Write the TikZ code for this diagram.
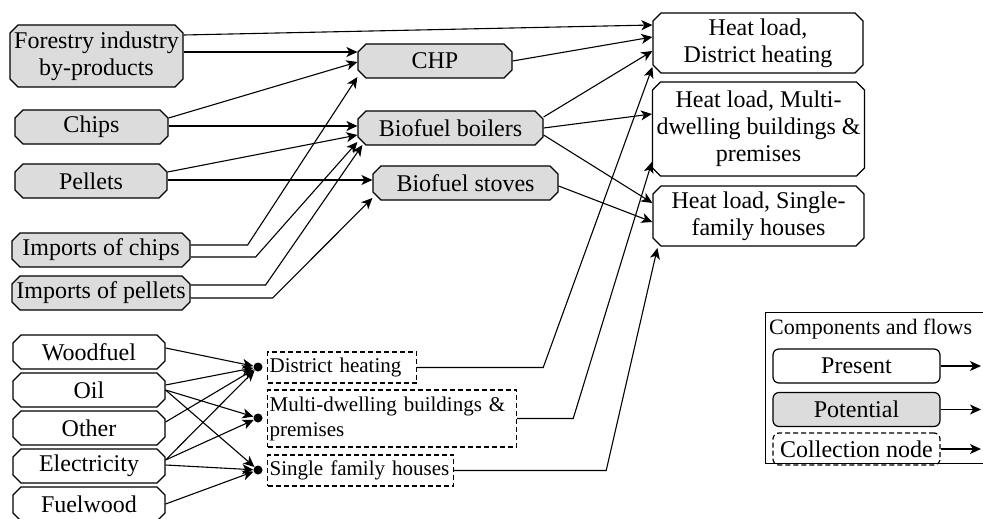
\documentclass[tikz,border=0pt]{standalone}
\usepackage{fontspec}
\setmainfont{Liberation Serif}
\newfontfamily\gfont{Liberation Serif}
\usetikzlibrary{shapes.misc,arrows.meta,calc}
\definecolor{boxgray}{RGB}{220,220,220}
\begin{document}
\begin{tikzpicture}[x=1pt,y=-1pt,
  every node/.style={font=\gfont\fontsize{24}{27}\selectfont},
  flow/.style={-{Stealth[length=11pt,width=10pt,inset=3pt]}, line width=1.1pt},
  box/.style={chamfered rectangle, chamfered rectangle xsep=4pt, chamfered rectangle ysep=4pt, draw, line width=1.2pt, inner sep=0pt, align=center},
  pot/.style={box, fill=boxgray},
  pres/.style={box, fill=white},
  coll/.style={draw, dash pattern=on 5pt off 3pt, line width=1.2pt, inner xsep=2pt, inner ysep=0pt, align=left, font=\gfont\fontsize{21}{25}\selectfont},
  dot/.style={circle, fill, inner sep=0pt, minimum size=9pt},
  legbox/.style={draw, rounded corners=6pt, line width=1.2pt, minimum width=167pt, minimum height=34pt, inner sep=0pt},
]
\useasboundingbox (0,0) rectangle (983,519);

% potential sources
\node[pot, minimum width=173pt, minimum height=62pt] (forest) at (96.5,56) {Forestry industry\\by-products};
\node[pot, minimum width=153pt, minimum height=34pt] (chips) at (91.5,127) {Chips};
\node[pot, minimum width=152pt, minimum height=34pt] (pellets) at (91,181) {Pellets};
\node[pot, minimum width=178pt, minimum height=34pt] (ichips) at (101,250) {Imports of chips};
\node[pot, minimum width=178pt, minimum height=34pt] (ipell) at (101,293) {Imports of pellets};
% conversion
\node[pot, minimum width=154pt, minimum height=34pt] (chp) at (435,61) {CHP};
\node[pot, minimum width=185pt, minimum height=34pt] (boil) at (450.5,128) {Biofuel boilers};
\node[pot, minimum width=185pt, minimum height=34pt] (stove) at (465.5,183) {Biofuel stoves};
% heat loads
\node[pres, minimum width=210pt, minimum height=60pt] (hdh) at (758,43) {Heat load,\\District heating};
\node[pres, minimum width=211pt, minimum height=94pt] (hm) at (758.5,129) {Heat load, Multi-\\dwelling buildings \&\\premises};
\node[pres, minimum width=211pt, minimum height=60pt] (hs) at (758.5,216) {Heat load, Single-\\family houses};
% present sources
\node[pres, minimum width=152pt, minimum height=34pt] (wood) at (89,352) {Woodfuel};
\node[pres, minimum width=152pt, minimum height=34pt] (oil) at (89,390) {Oil};
\node[pres, minimum width=152pt, minimum height=34pt] (other) at (89,428) {Other};
\node[pres, minimum width=152pt, minimum height=34pt] (elec) at (89,466) {Electricity};
\node[pres, minimum width=152pt, minimum height=34pt] (fuelw) at (89,504) {Fuelwood};
% collection nodes
\node[dot] (ddh) at (258,367) {};
\node[dot] (dm) at (258,418) {};
\node[dot] (ds) at (258,470) {};
\node[coll, text width=145pt, minimum height=31pt, anchor=west] (cdh) at (267,367.5) {District heating};
\node[coll, text width=245pt, minimum height=57pt, anchor=west] (cm) at (267,418.5) {Multi-dwelling buildings \&\\premises};
\node[coll, text width=182pt, minimum height=31pt, anchor=west] (cs) at (267,470.5) {Single family houses};

% flows top
\draw[flow] ([yshift=21pt]forest.east) -- ([yshift=18pt]hdh.west);
\draw[flow] ([yshift=4pt]forest.east) -- ([yshift=9pt]chp.west);
\draw[flow] ([yshift=9pt]chips.east) -- ([yshift=-1pt]chp.west);
\draw[flow] ([yshift=1pt]chips.east) -- ([yshift=2pt]boil.west);
\draw[flow] ([yshift=9pt]pellets.east) -- ([yshift=-7pt]boil.west);
\draw[flow] ([yshift=1pt]pellets.east) -- ([yshift=3pt]stove.west);
\draw[flow] ([yshift=5pt]ichips.east) -- ++(57,0) -- ([yshift=-16pt]chp.west);
\draw[flow] ([yshift=-7pt]ichips.east) -- ++(65,0) -- ([yshift=-14pt]boil.west);
\draw[flow] ([yshift=8pt]ipell.east) -- ++(75,0) -- ([xshift=5pt,yshift=-17pt]boil.west);
\draw[flow] ([yshift=-5pt]ipell.east) -- ++(82,0) -- ([yshift=-15pt]stove.west);
\draw[flow] (chp.east) -- ([yshift=6pt]hdh.west);
\draw[flow] ([yshift=11pt]boil.east) -- ([yshift=-8pt]hdh.west);
\draw[flow] (boil.east) -- ([yshift=15pt]hm.west);
\draw[flow] ([yshift=-7pt]boil.east) -- ([yshift=13pt]hs.west);
\draw[flow] ([yshift=-3pt]stove.east) -- ([yshift=-6pt]hs.west);

% flows bottom
\draw[flow] ([yshift=4pt]wood.east) -- (ddh);
\draw[flow] ([yshift=5pt]oil.east) -- (ddh);
\draw[flow] (oil.east) -- (dm);
\draw[flow] (oil.east) -- (ds);
\draw[flow] ([yshift=6pt]other.east) -- (ddh);
\draw[flow] ([yshift=6pt]elec.east) -- (ddh);
\draw[flow] ([yshift=6pt]elec.east) -- (dm);
\draw[flow] ([yshift=1pt]elec.east) -- (ds);
\draw[flow] (fuelw.east) -- (ds);
\draw[flow] (cdh.east) -- ++(126,0) -- ([yshift=-24pt]hdh.west);
\draw[flow] (cm.east) -- ++(56,0) -- ([yshift=-33pt]hm.west);
\draw[flow] (cs.east) -- ++(152,0) -- ([xshift=5pt,yshift=-32pt]hs.west);

% legend
\node[draw, line width=1.2pt, minimum width=225pt, minimum height=151pt, anchor=north west, inner sep=0pt] (leg) at (765,312) {};
\node[anchor=west, font=\gfont\fontsize{22}{26}\selectfont, inner sep=0pt] (legt) at (769,329) {Components and flows};
\node[legbox, fill=white] (lp) at (856.5,366) {Present};
\node[legbox, fill=boxgray] (lpo) at (856.5,409.5) {Potential};
\node[legbox, dash pattern=on 5pt off 3pt, minimum height=32pt] (lc) at (856.5,449) {Collection node};
\coordinate (lpend) at (981,366);
\coordinate (lpoend) at (981,409.5);
\coordinate (lcend) at (981,449);
\draw[flow] (lp.east) -- (lpend);
\draw[flow] (lpo.east) -- (lpoend);
\draw[flow] (lc.east) -- (lcend);
\end{tikzpicture}
\end{document}
